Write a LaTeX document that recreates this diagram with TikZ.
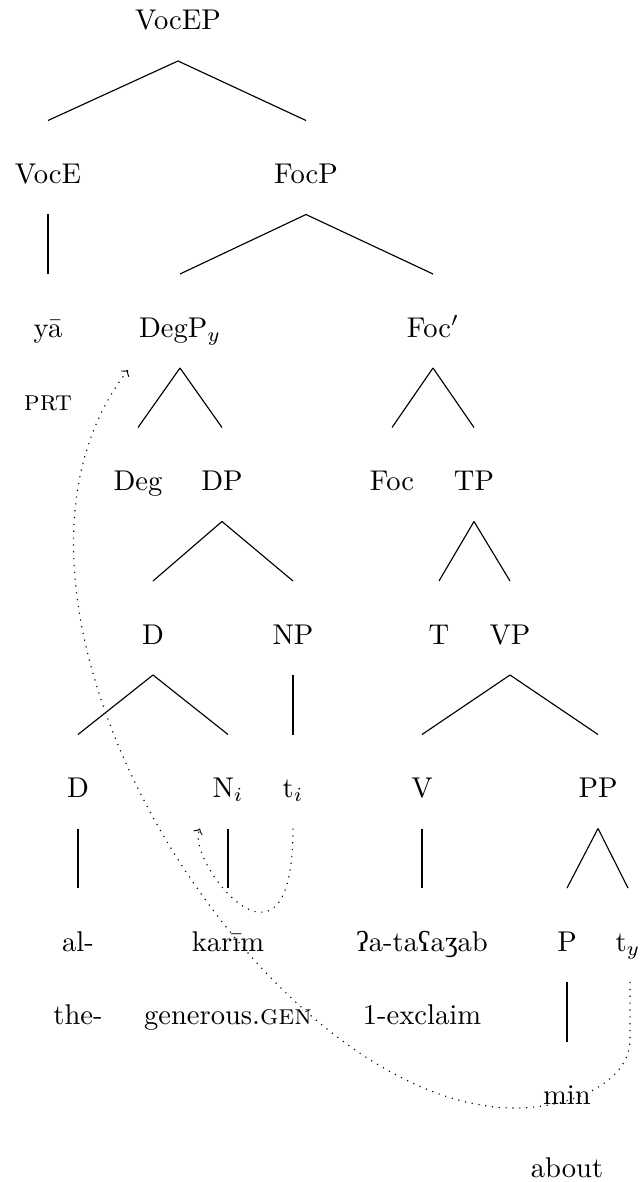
\documentclass[tikz,border=0pt]{standalone}
\usepackage{fontspec}
\newfontfamily\ipafont{Liberation Serif}
\usetikzlibrary{calc}
\newcommand{\treeedge}[2]{\draw[branch] ($(#1.base)+(0,31)$) -- ($(#2.base)+(0,-63)$);}
\begin{document}
\begin{tikzpicture}[x=0.35pt,y=-0.35pt,
  lbl/.style={anchor=base,inner sep=0pt},
  branch/.style={line width=0.4pt},
  mv/.style={dotted,->}]
\useasboundingbox (0,0) rectangle (641,1182);
% row 0
\node[lbl] (vocep) at (178,30) {VocEP};
% row 1
\node[lbl] (voce) at (48,183.5) {VocE};
\node[lbl] (focp) at (306,183.5) {FocP};
% row 2
\node[lbl] (ya) at (48,337) {yā};
\node[lbl] (prt) at (48,410) {\textsc{prt}};
\node[lbl] (degp) at (180,337) {DegP$_y$};
\node[lbl] (focbar) at (433,337) {Foc$'$};
% row 3
\node[lbl] (deg) at (138,490.5) {Deg};
\node[lbl] (dp) at (222,490.5) {DP};
\node[lbl] (foc) at (392,490.5) {Foc};
\node[lbl] (tp) at (474,490.5) {TP};
% row 4
\node[lbl] (dbar) at (153,644) {D};
\node[lbl] (np) at (293,644) {NP};
\node[lbl] (t) at (439,644) {T};
\node[lbl] (vp) at (510,644) {VP};
% row 5
\node[lbl] (d) at (78,797.5) {D};
\node[lbl] (n) at (228,797.5) {N$_i$};
\node[lbl] (ti) at (293,797.5) {t$_i$};
\node[lbl] (v) at (422,797.5) {V};
\node[lbl] (pp) at (598,797.5) {PP};
% row 6
\node[lbl] (al) at (78,951) {al-};
\node[lbl] (karim) at (228,951) {karīm};
\node[lbl] (verb) at (422,951) {{\ipafont ʔ}a-ta{\ipafont ʕ}a{\ipafont ʒ}ab};
\node[lbl] (p) at (567,951) {P};
\node[lbl] (ty) at (628,951) {t$_y$};
\node[lbl] (the) at (78,1024) {the-};
\node[lbl] (gen) at (228,1024) {generous.\textsc{gen}};
\node[lbl] (excl) at (422,1024) {1-exclaim};
% row 7
\node[lbl] (min) at (567,1104.5) {min};
\node[lbl] (about) at (567,1177.5) {about};
% edges
\treeedge{vocep}{voce}
\treeedge{vocep}{focp}
\treeedge{voce}{ya}
\treeedge{focp}{degp}
\treeedge{focp}{focbar}
\treeedge{degp}{deg}
\treeedge{degp}{dp}
\treeedge{focbar}{foc}
\treeedge{focbar}{tp}
\treeedge{dp}{dbar}
\treeedge{dp}{np}
\treeedge{tp}{t}
\treeedge{tp}{vp}
\treeedge{dbar}{d}
\treeedge{dbar}{n}
\treeedge{np}{ti}
\treeedge{vp}{v}
\treeedge{vp}{pp}
\treeedge{d}{al}
\treeedge{n}{karim}
\treeedge{v}{verb}
\treeedge{pp}{p}
\treeedge{pp}{ty}
\treeedge{p}{min}
% movement arrows
\coordinate (tistart) at ($(ti.base)+(0,31)$);
\coordinate (nend) at ($(n.base)+(-28,31)$);
\draw[mv] (tistart) .. controls +(0,171.5) and +(-15,31.5) .. (nend);
\coordinate (tystart) at ($(ty.base)+(2,31)$);
\coordinate (tydown) at ($(ty.base)+(2,89)$);
\coordinate (bend) at ($(min.base)+(-52,3.5)$);
\coordinate (degend) at ($(degp.base)+(-52,33)$);
\draw[mv] (tystart) -- (tydown) .. controls +(0,40) and +(60,0) .. (bend)
  .. controls +(-250,0) and +(-183,237) .. (degend);
\end{tikzpicture}
\end{document}
